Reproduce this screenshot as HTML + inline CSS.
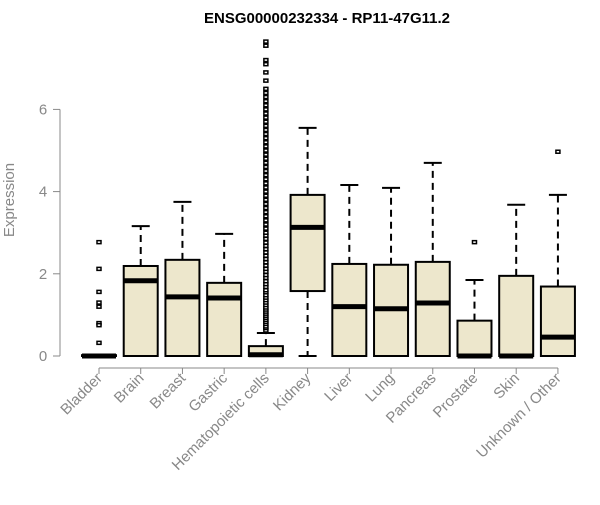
<!DOCTYPE html>
<html><head><meta charset="utf-8"><style>
body{margin:0;background:#fff;}
svg{font-family:"Liberation Sans",Arial,sans-serif;}
</style></head><body>
<svg id="chart" width="600" height="500" viewBox="0 0 600 500">
<text x="327" y="23" text-anchor="middle" font-weight="bold" font-size="15" fill="#000">ENSG00000232334 - RP11-47G11.2</text>
<text transform="translate(14,200) rotate(-90)" text-anchor="middle" font-size="15" fill="#888">Expression</text>
<g id="yaxis"></g>
<g id="xaxis"></g>
<g id="boxes"></g>
</svg>
<script>
const categories=["Bladder","Brain","Breast","Gastric","Hematopoietic cells","Kidney","Liver","Lung","Pancreas","Prostate","Skin","Unknown / Other"];
const q1=[0,0,0,0,0,1.58,0,0,0,0,0,0];
const medians=[0,1.83,1.44,1.41,0.03,3.13,1.2,1.15,1.29,0,0,0.46];
const q3=[0.02,2.19,2.34,1.78,0.24,3.92,2.24,2.22,2.29,0.86,1.95,1.69];
const whiskerLow=[0,0,0,0,0,0,0,0,0,0,0,0];
const whiskerHigh=[0.02,3.16,3.75,2.97,0.56,5.55,4.16,4.09,4.7,1.85,3.68,3.92];
const outliers=[
 [2.77,2.12,1.56,1.3,1.2,0.8,0.75,0.32],
 [],[],[],
 [0.62,0.68,0.72,0.78,0.83,0.88,0.93,0.98,1.03,1.08,1.13,1.18,1.24,1.3,1.36,1.42,1.48,1.55,1.6,1.68,1.75,1.82,1.9,1.97,2.05,2.12,2.2,2.28,2.36,2.44,2.52,2.6,2.68,2.76,2.85,2.93,3.0,3.1,3.2,3.3,3.4,3.5,3.6,3.7,3.8,3.9,4.0,4.1,4.2,4.3,4.4,4.5,4.6,4.7,4.8,4.9,5.0,5.1,5.2,5.3,5.4,5.5,5.6,5.7,5.8,5.9,6.0,6.1,6.2,6.3,6.4,6.5,6.7,6.9,7.1,7.2,7.55,7.65],
 [],[],[],[],
 [2.77],[],[4.97]
];
const yTicks=[0,2,4,6];
const NS="http://www.w3.org/2000/svg";
function y(v){return 356-v*41.1;}
function x(i){return 99+i*41.72;}
function mk(tag,attrs,parent){const e=document.createElementNS(NS,tag);for(const k in attrs)e.setAttribute(k,attrs[k]);parent.appendChild(e);return e;}
const ya=document.getElementById('yaxis'),xa=document.getElementById('xaxis'),bx=document.getElementById('boxes');
let l=mk('line',{x1:60,x2:60,y1:y(yTicks[0]),y2:y(yTicks[yTicks.length-1]),stroke:'#888'},ya);


yTicks.forEach(t=>{
 const tk=mk('line',{x1:53,x2:60,y1:y(t),y2:y(t),stroke:'#888'},ya);
 
 
 const tx=mk('text',{x:43,y:y(t)+5,'text-anchor':'middle','font-size':15,fill:'#888'},ya);
 
 
 tx.textContent=t;
});
let xl=mk('line',{x1:x(0),x2:x(categories.length-1),y1:368,y2:368,stroke:'#888'},xa);


categories.forEach((c,i)=>{
 const cx=x(i),hw=17;
 const tk=mk('line',{x1:cx,x2:cx,y1:368,y2:374,stroke:'#888'},xa);
 
 
 const tx=mk('text',{x:cx+4,y:379,'text-anchor':'end','font-size':15,fill:'#888',transform:`rotate(-45 ${cx+4} 379)`},xa);
 
 
 tx.textContent=c;
 const g=mk('g',{},bx);
 
 
 mk('line',{x1:cx,x2:cx,y1:y(q3[i]),y2:y(whiskerHigh[i]),stroke:'#000','stroke-width':2,'stroke-dasharray':'7,5'},g);
 mk('line',{x1:cx,x2:cx,y1:y(q1[i]),y2:y(whiskerLow[i]),stroke:'#000','stroke-width':2,'stroke-dasharray':'7,5'},g);
 mk('line',{x1:cx-9,x2:cx+9,y1:y(whiskerHigh[i]),y2:y(whiskerHigh[i]),stroke:'#000','stroke-width':2},g);
 mk('line',{x1:cx-9,x2:cx+9,y1:y(whiskerLow[i]),y2:y(whiskerLow[i]),stroke:'#000','stroke-width':2},g);
 mk('rect',{x:cx-hw,y:y(q3[i]),width:hw*2,height:Math.max(y(q1[i])-y(q3[i]),0.5),fill:'#ede7cc',stroke:'#000','stroke-width':2},g);
 mk('line',{x1:cx-hw,x2:cx+hw,y1:y(medians[i]),y2:y(medians[i]),stroke:'#000','stroke-width':5},g);
 outliers[i].forEach(v=>{
  const p=mk('rect',{x:cx-2,y:y(v)-1.5,width:4,height:3,fill:'#fff',stroke:'#000','stroke-width':1.5},g);
  
  
 });
});
</script>
</body></html>
